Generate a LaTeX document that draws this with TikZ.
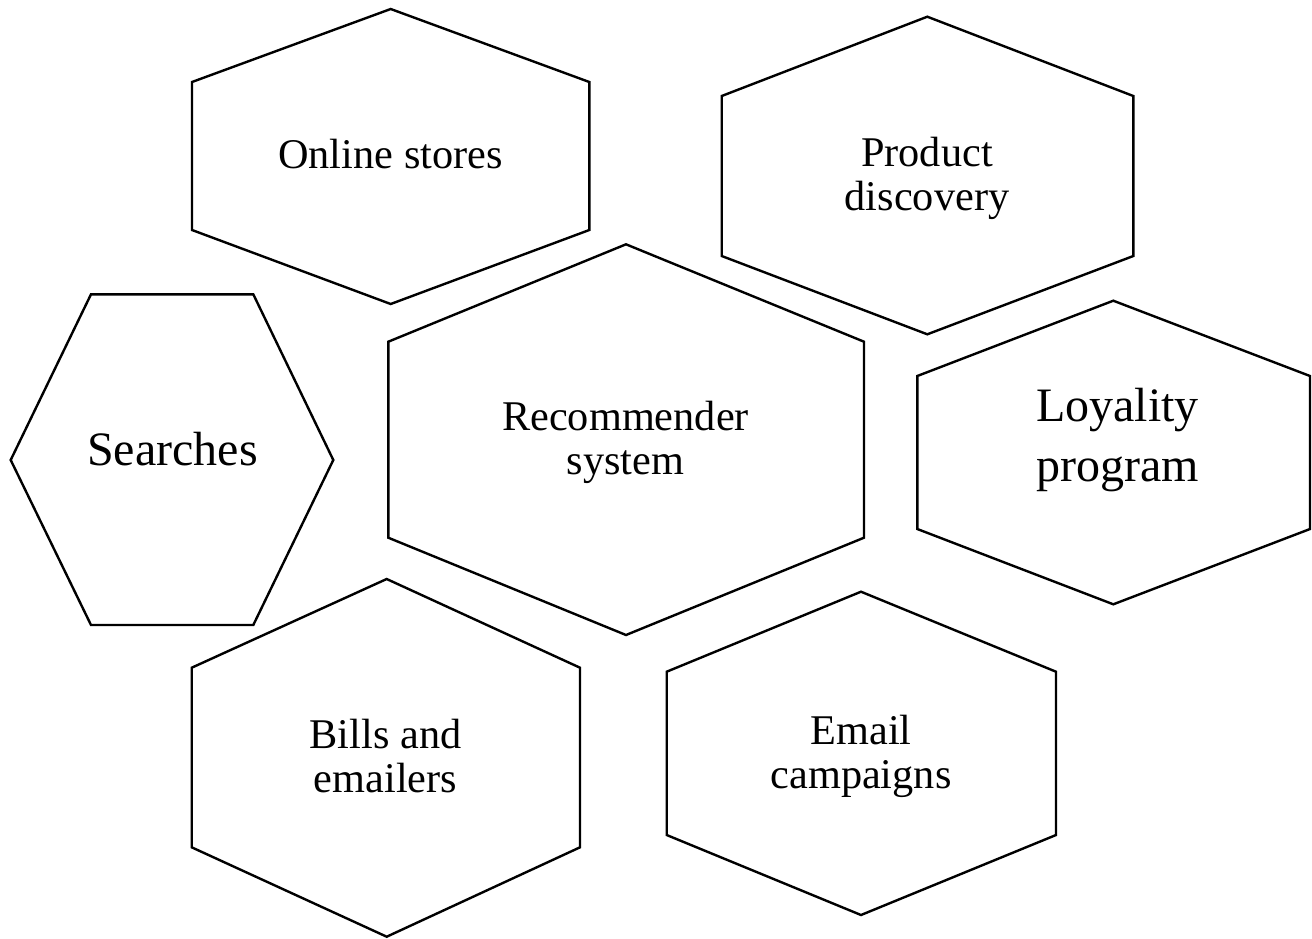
\documentclass[tikz,border=0pt]{standalone}
\usepackage{fontspec}
\setmainfont{Liberation Serif}
\begin{document}
\begin{tikzpicture}[x=1pt,y=-1pt,
  hexline/.style={draw=black, line width=2.4pt, line join=miter},
  hexlabel/.style={anchor=base, inner sep=0pt, font=\fontsize{42.3}{44}\selectfont},
  biglabel/.style={anchor=base, inner sep=0pt, font=\fontsize{48}{60}\selectfont}]
\useasboundingbox (0,0) rectangle (1312,938);

% Online stores
\draw[hexline] (390.7,9) -- (589.3,82) -- (589.3,230) -- (390.7,304) -- (192,230) -- (192,82) -- cycle;
\node[hexlabel] (online) at (390.5,168.3) {Online stores};

% Product discovery
\draw[hexline] (927.3,16.7) -- (1133.3,96) -- (1133.3,256) -- (927.3,334.3) -- (721.7,256) -- (721.7,96) -- cycle;
\node[hexlabel] (product) at (927,166.7) {\tabcolsep=0pt\begin{tabular}[t]{c}Product\\discovery\end{tabular}};

% Searches
\draw[hexline] (91,294.3) -- (253.3,294.3) -- (333.3,460) -- (253.3,625) -- (91,625) -- (10.7,460) -- cycle;
\node[biglabel] (searches) at (172.5,465) {Searches};

% Recommender system
\draw[hexline] (626,244.3) -- (864,341.7) -- (864,537.7) -- (626,635) -- (388.3,537.7) -- (388.3,341.7) -- cycle;
\node[hexlabel] (recsys) at (625.5,430) {\tabcolsep=0pt\begin{tabular}[t]{c}Recommender\\system\end{tabular}};

% Loyality program
\draw[hexline] (1113.3,300.7) -- (1310,376) -- (1310,529) -- (1113.3,604.3) -- (917.3,529) -- (917.3,376) -- cycle;
\node[biglabel] (loyalty) at (1117.5,421.7) {\tabcolsep=0pt\begin{tabular}[t]{c}Loyality\\program\end{tabular}};

% Bills and emailers
\draw[hexline] (386.7,579) -- (580,667.7) -- (580,847.3) -- (386.7,936.7) -- (191.7,847.3) -- (191.7,667.7) -- cycle;
\node[hexlabel] (bills) at (385.5,748.3) {\tabcolsep=0pt\begin{tabular}[t]{c}Bills and\\emailers\end{tabular}};

% Email campaigns
\draw[hexline] (861,591.7) -- (1056,671.7) -- (1056,835) -- (861,915) -- (666.7,835) -- (666.7,671.7) -- cycle;
\node[hexlabel] (email) at (861,744.3) {\tabcolsep=0pt\begin{tabular}[t]{c}Email\\campaigns\end{tabular}};
\end{tikzpicture}
\end{document}
